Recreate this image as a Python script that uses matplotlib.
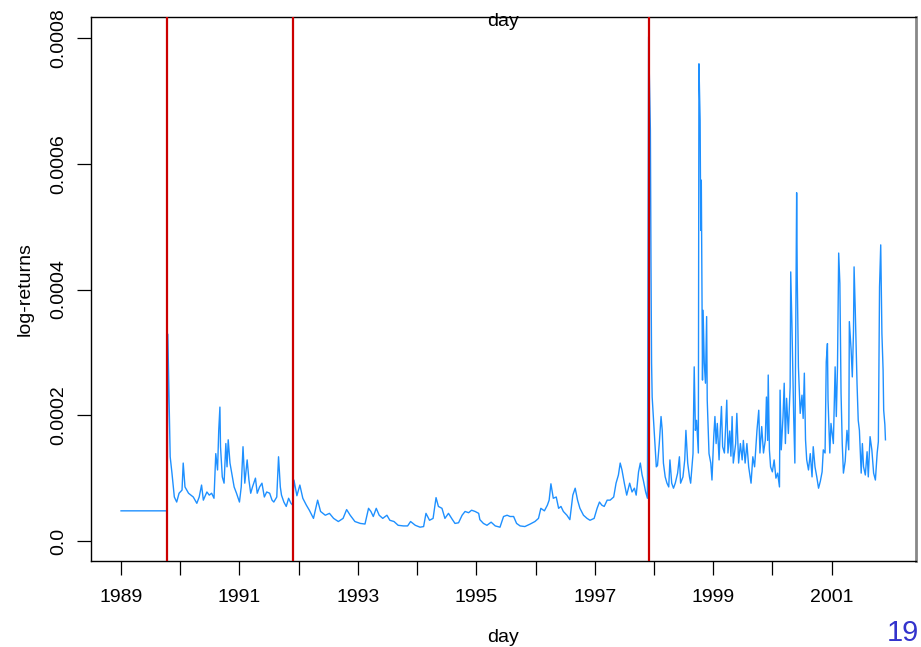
import numpy as np
import matplotlib
matplotlib.use("Agg")
import matplotlib.pyplot as plt

plt.rcParams['font.family'] = ['Liberation Sans', 'DejaVu Sans']

# conditional variance path, values in units of 1e-4
years = [
    1989.00, 1989.78, 1989.79, 1989.83, 1989.86, 1989.90, 1989.94, 1989.98, 1990.03, 1990.05,
    1990.08, 1990.14, 1990.22, 1990.28, 1990.32, 1990.36, 1990.39, 1990.45, 1990.49, 1990.53,
    1990.57, 1990.60, 1990.63, 1990.65, 1990.67, 1990.68, 1990.71, 1990.74, 1990.77, 1990.79,
    1990.81, 1990.84, 1990.87, 1990.91, 1990.95, 1991.00, 1991.03, 1991.06, 1991.09, 1991.13,
    1991.16, 1991.19, 1991.22, 1991.27, 1991.30, 1991.34, 1991.38, 1991.42, 1991.46, 1991.51,
    1991.55, 1991.58, 1991.63, 1991.66, 1991.69, 1991.71, 1991.75, 1991.79, 1991.83, 1991.87,
    1991.90, 1991.92, 1991.97, 1992.02, 1992.07, 1992.13, 1992.18, 1992.25, 1992.32, 1992.37,
    1992.45, 1992.52, 1992.59, 1992.67, 1992.75, 1992.81, 1992.87, 1992.95, 1993.04, 1993.12,
    1993.18, 1993.22, 1993.26, 1993.31, 1993.36, 1993.42, 1993.49, 1993.54, 1993.61, 1993.68,
    1993.77, 1993.84, 1993.89, 1993.97, 1994.05, 1994.11, 1994.15, 1994.21, 1994.27, 1994.32,
    1994.36, 1994.42, 1994.47, 1994.53, 1994.59, 1994.64, 1994.70, 1994.76, 1994.81, 1994.87,
    1994.92, 1994.98, 1995.04, 1995.06, 1995.12, 1995.18, 1995.25, 1995.32, 1995.40, 1995.46,
    1995.52, 1995.57, 1995.63, 1995.68, 1995.74, 1995.82, 1995.91, 1995.99, 1996.05, 1996.09,
    1996.15, 1996.20, 1996.23, 1996.26, 1996.30, 1996.35, 1996.39, 1996.43, 1996.47, 1996.53,
    1996.58, 1996.63, 1996.67, 1996.71, 1996.75, 1996.81, 1996.87, 1996.92, 1996.99, 1997.04,
    1997.08, 1997.12, 1997.16, 1997.21, 1997.26, 1997.32, 1997.36, 1997.40, 1997.43, 1997.46,
    1997.50, 1997.54, 1997.59, 1997.63, 1997.67, 1997.70, 1997.74, 1997.77, 1997.80, 1997.82,
    1997.86, 1997.89, 1997.91, 1997.94, 1997.95, 1997.96, 1997.97, 1997.99, 1998.02, 1998.04,
    1998.06, 1998.09, 1998.12, 1998.14, 1998.16, 1998.19, 1998.22, 1998.25, 1998.27, 1998.30,
    1998.33, 1998.36, 1998.40, 1998.43, 1998.45, 1998.49, 1998.52, 1998.54, 1998.57, 1998.60,
    1998.62, 1998.66, 1998.68, 1998.70, 1998.72, 1998.75, 1998.76, 1998.78, 1998.79, 1998.80,
    1998.81, 1998.82, 1998.83, 1998.85, 1998.87, 1998.89, 1998.90, 1998.93, 1998.96, 1998.98,
    1999.01, 1999.03, 1999.05, 1999.07, 1999.10, 1999.12, 1999.14, 1999.16, 1999.19, 1999.21,
    1999.23, 1999.25, 1999.28, 1999.30, 1999.32, 1999.34, 1999.38, 1999.40, 1999.43, 1999.46,
    1999.49, 1999.51, 1999.54, 1999.57, 1999.60, 1999.64, 1999.67, 1999.70, 1999.74, 1999.77,
    1999.79, 1999.82, 1999.85, 1999.88, 1999.90, 1999.92, 1999.93, 1999.95, 1999.97, 2000.00,
    2000.03, 2000.06, 2000.09, 2000.12, 2000.13, 2000.15, 2000.18, 2000.20, 2000.22, 2000.24,
    2000.27, 2000.30, 2000.31, 2000.33, 2000.36, 2000.38, 2000.41, 2000.42, 2000.44, 2000.47,
    2000.50, 2000.52, 2000.54, 2000.56, 2000.58, 2000.61, 2000.64, 2000.67, 2000.69, 2000.72,
    2000.75, 2000.78, 2000.81, 2000.84, 2000.86, 2000.89, 2000.91, 2000.93, 2000.94, 2000.97,
    2000.99, 2001.01, 2001.03, 2001.06, 2001.08, 2001.10, 2001.12, 2001.14, 2001.16, 2001.18,
    2001.20, 2001.23, 2001.26, 2001.29, 2001.30, 2001.33, 2001.35, 2001.37, 2001.38, 2001.40,
    2001.43, 2001.45, 2001.47, 2001.50, 2001.52, 2001.54, 2001.57, 2001.60, 2001.62, 2001.65,
    2001.68, 2001.71, 2001.74, 2001.77, 2001.79, 2001.81, 2001.83, 2001.85, 2001.87, 2001.88,
    2001.90, 2001.91,
]
sigma2_e4 = [
    0.48, 0.48, 3.29, 1.34, 1.08, 0.70, 0.62, 0.76, 0.81, 1.24,
    0.86, 0.76, 0.70, 0.60, 0.70, 0.89, 0.65, 0.78, 0.73, 0.76,
    0.68, 1.39, 1.13, 1.76, 2.13, 1.50, 1.02, 0.92, 1.55, 1.18,
    1.61, 1.24, 1.08, 0.86, 0.76, 0.62, 0.86, 1.50, 0.92, 1.29,
    0.97, 0.76, 0.86, 1.00, 0.76, 0.86, 0.92, 0.70, 0.78, 0.76,
    0.65, 0.62, 0.70, 1.34, 0.86, 0.73, 0.62, 0.55, 0.68, 0.60,
    0.57, 0.97, 0.72, 0.89, 0.68, 0.57, 0.49, 0.36, 0.65, 0.47,
    0.41, 0.44, 0.36, 0.31, 0.36, 0.50, 0.41, 0.31, 0.28, 0.27,
    0.52, 0.47, 0.39, 0.52, 0.41, 0.36, 0.41, 0.33, 0.31, 0.25,
    0.24, 0.24, 0.31, 0.25, 0.22, 0.23, 0.44, 0.33, 0.36, 0.69,
    0.55, 0.52, 0.36, 0.44, 0.35, 0.28, 0.29, 0.41, 0.47, 0.45,
    0.49, 0.47, 0.44, 0.34, 0.28, 0.25, 0.30, 0.24, 0.22, 0.39,
    0.41, 0.39, 0.39, 0.28, 0.24, 0.23, 0.27, 0.31, 0.36, 0.52,
    0.48, 0.57, 0.65, 0.91, 0.68, 0.70, 0.52, 0.55, 0.47, 0.41,
    0.34, 0.73, 0.84, 0.65, 0.52, 0.41, 0.36, 0.33, 0.36, 0.52,
    0.62, 0.57, 0.55, 0.65, 0.65, 0.70, 0.92, 1.05, 1.24, 1.13,
    0.92, 0.73, 0.92, 0.78, 0.84, 0.73, 1.10, 1.24, 1.05, 0.97,
    0.78, 0.68, 8.02, 6.53, 4.41, 2.83, 2.29, 1.98, 1.50, 1.18,
    1.20, 1.55, 1.98, 1.76, 1.24, 1.02, 0.92, 0.86, 1.29, 0.92,
    0.84, 0.92, 1.08, 1.34, 0.92, 1.02, 1.29, 1.76, 1.24, 1.02,
    0.92, 1.39, 2.77, 1.76, 1.92, 1.40, 7.59, 6.69, 4.94, 5.74,
    4.26, 2.56, 3.67, 2.83, 2.51, 3.57, 2.24, 1.39, 1.24, 0.97,
    1.66, 1.98, 1.55, 1.87, 1.29, 1.76, 2.14, 1.50, 1.40, 1.80,
    2.24, 1.40, 1.75, 1.35, 1.98, 1.24, 1.55, 2.03, 1.24, 1.55,
    1.29, 1.60, 1.24, 1.55, 1.18, 0.92, 1.34, 1.18, 1.76, 2.08,
    1.40, 1.82, 1.40, 1.60, 2.29, 1.60, 2.64, 1.45, 1.18, 1.10,
    1.29, 1.00, 1.08, 0.86, 2.40, 1.45, 1.98, 2.51, 1.55, 2.27,
    1.71, 2.45, 4.28, 3.46, 1.98, 1.24, 5.54, 4.20, 2.77, 2.03,
    2.32, 1.95, 2.67, 1.61, 1.29, 1.13, 1.39, 1.02, 1.50, 1.18,
    1.02, 0.84, 0.95, 1.10, 1.45, 1.40, 2.85, 3.14, 2.25, 1.40,
    1.87, 1.71, 1.55, 2.77, 1.98, 2.77, 4.58, 4.10, 2.35, 1.55,
    1.08, 1.27, 1.76, 1.45, 3.49, 3.04, 2.61, 3.33, 4.36, 3.67,
    2.50, 1.92, 1.76, 1.08, 1.55, 1.18, 1.05, 1.42, 1.02, 1.66,
    1.45, 1.08, 0.97, 1.40, 1.58, 4.04, 4.71, 3.30, 2.72, 2.08,
    1.85, 1.61,
]
break_years = [1989.78, 1991.90, 1997.91]
year_ticks = list(range(1989, 2002))
year_labels = [str(y) if y % 2 == 1 else "" for y in year_ticks]
y_ticks = [0.0, 0.0002, 0.0004, 0.0006, 0.0008]
y_labels = ["0.0", "0.0002", "0.0004", "0.0006", "0.0008"]

t = np.array(years)
s2 = np.array(sigma2_e4) * 1e-4

fig = plt.figure(figsize=(9.21, 6.47), dpi=100)
ax = fig.add_axes([0.0985, 0.1329, 0.8957, 0.8404])

ax.plot(t, s2, color='#1E90FF', lw=1.0, zorder=2)
for b in break_years:
    ax.axvline(b, color='#CC0000', lw=1.6, zorder=3)

ax.set_xlim(1988.488, 2002.42)
ax.set_ylim(-0.0000318, 0.000833)

ax.set_xticks(year_ticks)
ax.set_xticklabels(year_labels, fontsize=14)
ax.set_yticks(y_ticks)
ax.set_yticklabels(y_labels, fontsize=14, rotation=90, va='center')
ax.tick_params(axis='x', direction='out', length=10, width=0.9, pad=10)
ax.tick_params(axis='y', direction='out', length=10, width=0.9, pad=7)

for side in ['left', 'top', 'bottom']:
    ax.spines[side].set_linewidth(1.0)
ax.spines['right'].set_color('#888888')
ax.spines['right'].set_linewidth(2.0)

ax.set_xlabel("day", fontsize=14, labelpad=17)
ax.set_ylabel("log-returns", fontsize=14, labelpad=12)
ax.text(0.5, 1.008, "day", transform=ax.transAxes, ha='center', va='top', fontsize=14)

fig.text(0.963, 0.0093, "19", color='#3333CC', fontsize=21, ha='left', va='baseline')

fig.savefig("out.png", dpi=100)
